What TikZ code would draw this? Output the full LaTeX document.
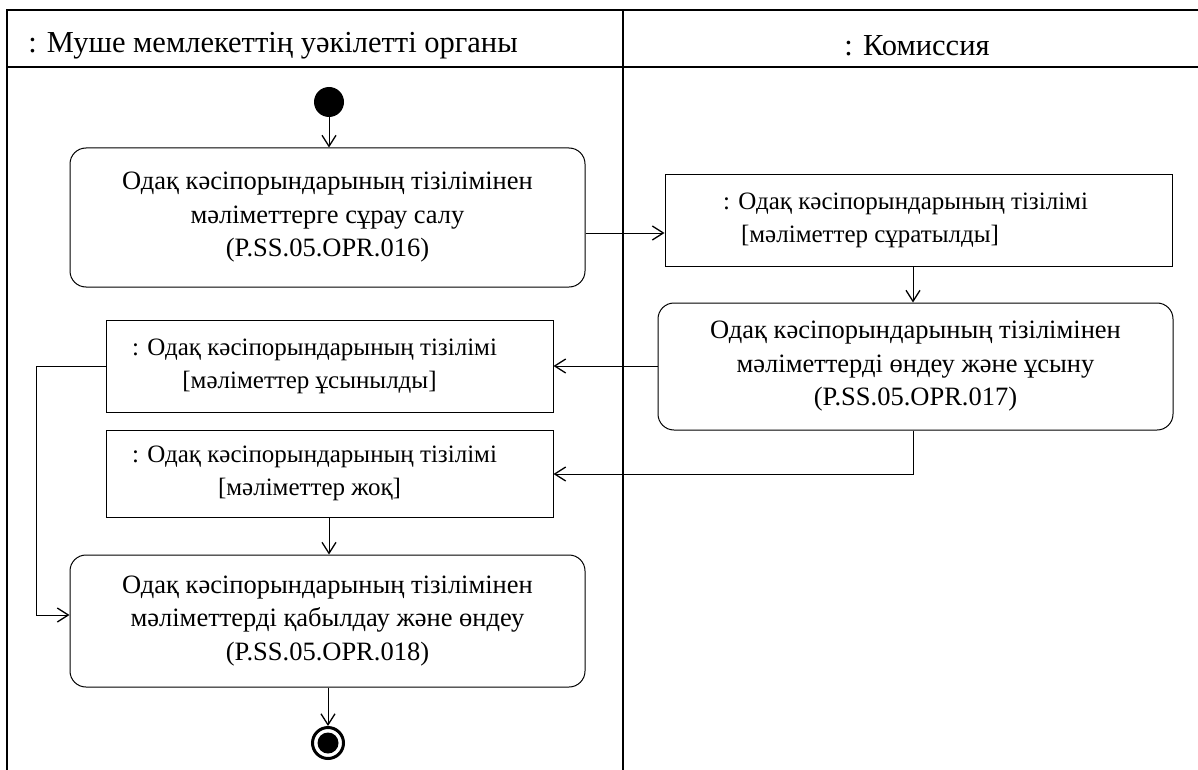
\documentclass[tikz,border=0pt]{standalone}
\usepackage{fontspec}
\setmainfont{Liberation Serif}
\usetikzlibrary{arrows.meta}
\begin{document}
\begin{tikzpicture}[x=1pt,y=-1pt,
  frame/.style={line width=1.2pt},
  act/.style={draw, line width=1pt, rounded corners=16pt, align=center, inner sep=0pt,
    font=\fontsize{26.5}{33.5}\selectfont},
  obj/.style={draw, line width=1pt, align=center, inner sep=0pt,
    font=\fontsize{25}{33}\selectfont},
  hdr/.style={inner sep=0pt, font=\fontsize{30.5}{33}\selectfont},
  flow/.style={line width=1pt, -{Straight Barb[length=11pt,width=14pt,line width=1.3pt]}},
  initial/.style={circle, fill=black, minimum size=30pt, inner sep=0pt},
  finalring/.style={circle, draw, line width=3pt, minimum size=31pt, inner sep=0pt},
  finaldot/.style={circle, fill=black, minimum size=21pt, inner sep=0pt}
]
\useasboundingbox (0,0) rectangle (1198,770);
% swimlane frame
\draw[frame] (1198,10) -- (7,10) -- (7,770);
\draw[frame] (7,67) -- (1198,67);
\draw[frame] (623,10) -- (623,770);
\node[hdr] (h1) at (273,46) {: Муше мемлекеттің уәкілетті органы};
\node[hdr] (h2) at (917,46) {: Комиссия};

\node[initial] (start) at (329,102) {};
\node[act, minimum width=515pt, minimum height=139pt] (a1) at (327.5,217.5)
  {Одақ кәсіпорындарының тізілімінен\\мәліметтерге сұрау салу\\(P.SS.05.OPR.016)};
\node[obj, minimum width=507pt, minimum height=91pt, align=left] (o1) at (918.5,220.5)
  {: Одақ кәсіпорындарының тізілімі\hspace*{26pt}\\\hspace*{18pt}{[мәліметтер сұратылды]}};
\node[act, minimum width=515pt, minimum height=127pt] (a2) at (915.5,366.5)
  {Одақ кәсіпорындарының тізілімінен\\мәліметтерді өндеу және ұсыну\\(P.SS.05.OPR.017)};
\node[obj, minimum width=447pt, minimum height=92pt] (o2) at (329.5,366)
  {: Одақ кәсіпорындарының тізілімі\hspace*{30pt}\\{[мәліметтер ұсынылды]}\hspace*{40pt}};
\node[obj, minimum width=447pt, minimum height=87pt] (o3) at (329.5,473.5)
  {: Одақ кәсіпорындарының тізілімі\hspace*{30pt}\\{[мәліметтер жоқ]}\hspace*{40pt}};
\node[act, minimum width=515pt, minimum height=132pt] (a3) at (327.5,621)
  {Одақ кәсіпорындарының тізілімінен\\мәліметтерді қабылдау және өндеу\\(P.SS.05.OPR.018)};
\node[finalring] (end) at (328,743) {};
\node[finaldot] (enddot) at (end.center) {};

\coordinate (l1) at (36,366);
\coordinate (l2) at (36,615);
\coordinate (r1) at (913,474);

\draw[flow] (start) -- (start |- a1.north);
\draw[flow] (a1.east |- 0,233) -- (o1.west |- 0,233);
\draw[flow] (o1.south -| 913,0) -- (a2.north -| 913,0);
\draw[flow] (a2.west |- 0,366) -- (o2.east |- 0,366);
\draw[flow] (a2.south -| r1) -- (r1) -- (o3.east |- r1);
\draw[flow] (o2.west |- l1) -- (l1) -- (l2) -- (a3.west |- l2);
\draw[flow] (o3.south -| 329,0) -- (a3.north -| 329,0);
\draw[flow] (a3.south -| end) -- (end.north);
\end{tikzpicture}
\end{document}
